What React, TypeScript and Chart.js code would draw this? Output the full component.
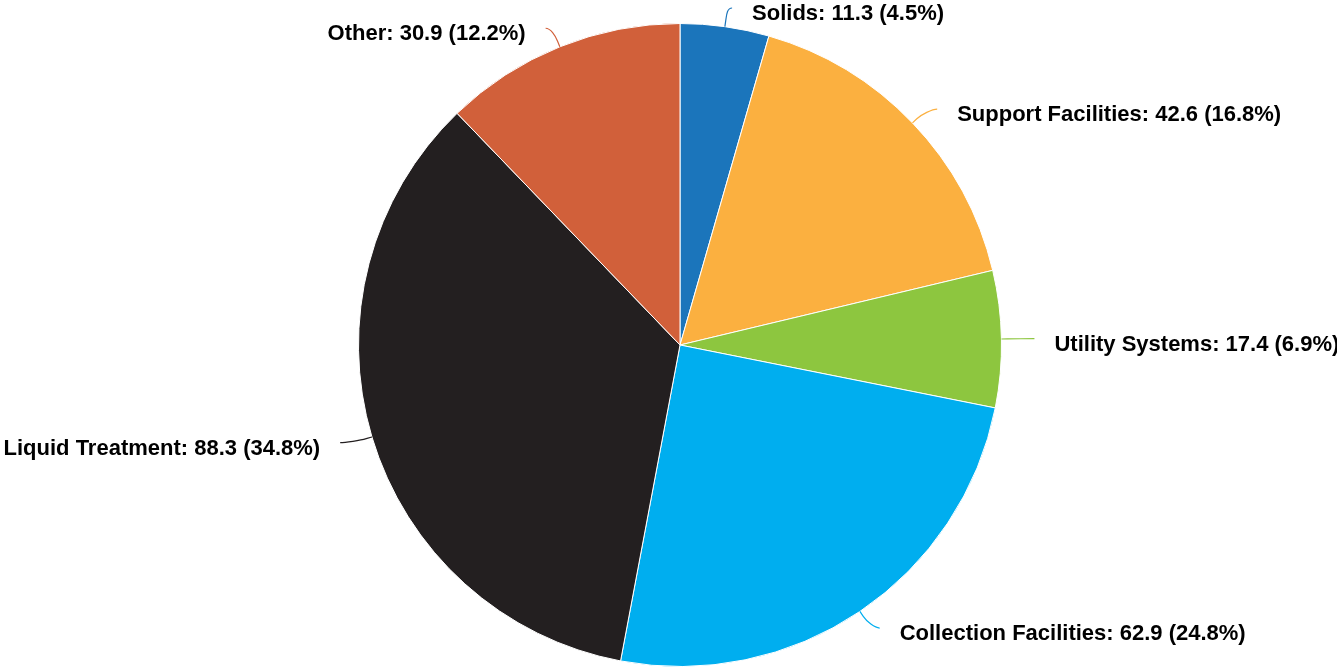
import React, { useEffect, useRef } from "react";
import { Chart, registerables } from "chart.js";

Chart.register(...registerables);

const categories = [
  "Solids",
  "Support Facilities",
  "Utility Systems",
  "Collection Facilities",
  "Liquid Treatment",
  "Other",
];
const values = [11.3, 42.6, 17.4, 62.9, 88.3, 30.9];
const colors = ["#1b75bb", "#fbb040", "#8dc63f", "#00aeef", "#231f20", "#d1603a"];

const W = 1337;
const H = 667;

const labelPlugin = {
  id: "pieLabels",
  afterDatasetsDraw(chart: any) {
    const ctx = chart.ctx as CanvasRenderingContext2D;
    const meta = chart.getDatasetMeta(0);
    const data = chart.data.datasets[0].data as number[];
    const total = data.reduce((a, b) => a + b, 0);
    ctx.save();
    ctx.font = "bold 22px 'Liberation Sans', Arial, sans-serif";
    ctx.textBaseline = "middle";
    meta.data.forEach((arc: any, i: number) => {
      const { x: cx, y: cy, startAngle, endAngle, outerRadius: R } = arc.getProps(
        ["x", "y", "startAngle", "endAngle", "outerRadius"],
        true
      );
      const mid = (startAngle + endAngle) / 2;
      const dx = Math.cos(mid);
      const dy = Math.sin(mid);
      const left = dx < 0;
      const touchX = cx + R * dx;
      const touchY = cy + R * dy;
      const breakX = cx + (R + 6) * dx;
      const breakY = cy + (R + 6) * dy;
      const ax = cx + (R + 30) * dx + (left ? -1 : 1) * 3;
      let ay = cy + (R + 20) * dy;
      ay = Math.min(Math.max(ay, 8), H - 8);

      ctx.strokeStyle = colors[i];
      ctx.lineWidth = 1.2;
      ctx.beginPath();
      ctx.moveTo(ax, ay);
      ctx.bezierCurveTo(
        ax + (left ? 5 : -5),
        ay,
        2 * breakX - touchX,
        2 * breakY - touchY,
        breakX,
        breakY
      );
      ctx.lineTo(touchX, touchY);
      ctx.stroke();

      const pct = (data[i] / total) * 100;
      const text = `${categories[i]}: ${data[i].toFixed(1)} (${pct.toFixed(1)}%)`;
      ctx.fillStyle = "#000000";
      ctx.textAlign = left ? "right" : "left";
      ctx.fillText(text, ax + (left ? -20 : 20), ay + 6);
    });
    ctx.restore();
  },
};

export default function App() {
  const ref = useRef<HTMLCanvasElement | null>(null);
  useEffect(() => {
    if (!ref.current) return;
    const chart = new Chart(ref.current, {
      type: "pie",
      data: {
        labels: categories,
        datasets: [
          {
            data: values,
            backgroundColor: colors,
            borderColor: "#ffffff",
            borderWidth: 1,
            hoverOffset: 0,
            offset: 0,
          },
        ],
      },
      options: {
        responsive: false,
        animation: false,
        devicePixelRatio: 1,
        layout: { padding: { top: 23, bottom: 0, left: 23, right: 0 } },
        plugins: { legend: { display: false }, tooltip: { enabled: false } },
        events: [],
      },
      plugins: [labelPlugin],
    });
    return () => chart.destroy();
  }, []);
  return (
    <div style={{ position: "fixed", left: 0, top: 0, width: W, height: H, background: "#fff" }}>
      <canvas ref={ref} width={W} height={H} style={{ display: "block", width: W, height: H }} />
    </div>
  );
}
